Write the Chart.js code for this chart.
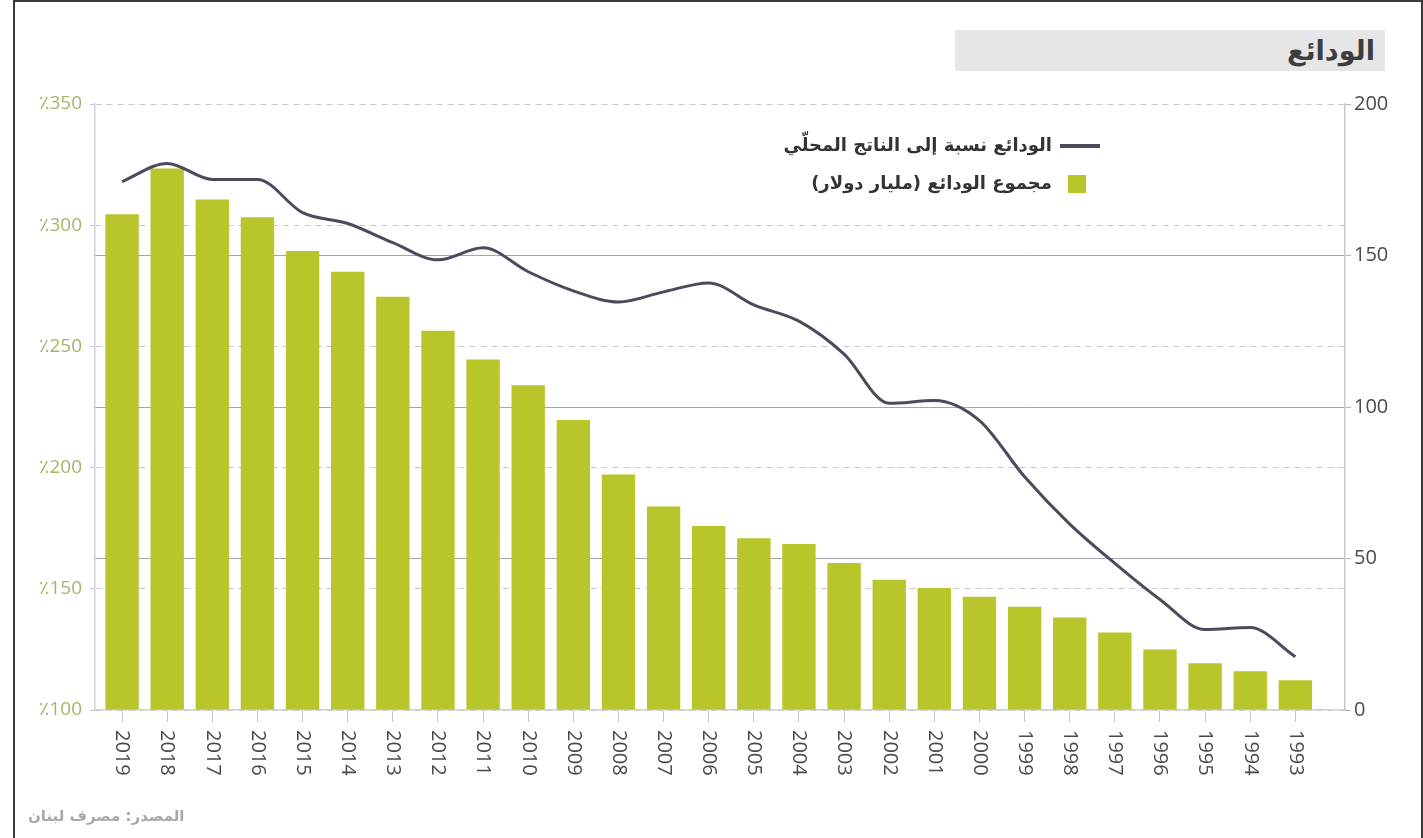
<!DOCTYPE html>
<html>
<head>
    <meta charset="utf-8">
    <title>الودائع</title>
    <script src="https://cdn.jsdelivr.net/npm/chart.js"></script>
    <style>
        body { margin: 0; background: #fff; }
        #wrap { position: relative; width: 1423px; height: 838px; overflow: hidden; }
        #frame { position: absolute; left: 13px; top: 0; width: 1406px; height: 845px; border: 2px solid #3a3a3a; border-bottom: none; }
        #title { position: absolute; left: 955px; top: 30px; width: 430px; height: 41px; background: #e6e6e6;
                 font: bold 27px "DejaVu Sans"; color: #3d3d3d; line-height: 41px; text-align: right; direction: rtl; }
        #title span { padding-right: 10px; }
        .lg { position: absolute; direction: rtl; font: bold 18px "DejaVu Sans"; color: #333; white-space: nowrap; }
        .sw { position: absolute; }
        #source { position: absolute; left: 28px; top: 807px; direction: rtl; font: bold 15px "DejaVu Sans"; color: #a8a8a8; }
    </style>
</head>
<body>
<div id="wrap">
    <canvas id="depositsChart" width="1423" height="838"></canvas>
    <div id="frame"></div>
    <div id="title"><span>الودائع</span></div>
    <div class="sw" style="left:1060px; top:144px; width:40px; height:4px; background:#4a4c5c;"></div>
    <div class="lg" style="right:371px; top:134px;">الودائع نسبة إلى الناتج المحلّي</div>
    <div class="sw" style="left:1068px; top:175px; width:18px; height:18px; background:#b8c62b;"></div>
    <div class="lg" style="right:371px; top:172px;">مجموع الودائع (مليار دولار)</div>
    <div id="source">المصدر: مصرف لبنان</div>
</div>

<script>
    const years = ['2019', '2018', '2017', '2016', '2015', '2014', '2013', '2012', '2011', '2010',
        '2009', '2008', '2007', '2006', '2005', '2004', '2003', '2002', '2001', '2000',
        '1999', '1998', '1997', '1996', '1995', '1994', '1993'];
    // مجموع الودائع (مليار دولار)
    const totalDeposits = [163.6, 178.7, 168.5, 162.6, 151.5, 144.6, 136.4, 125.2, 115.7, 107.2,
        95.7, 77.7, 67.2, 60.7, 56.7, 54.8, 48.5, 43.0, 40.3, 37.4,
        34.1, 30.5, 25.6, 20.0, 15.4, 12.8, 9.8];
    // الودائع نسبة إلى الناتج المحلي (%)
    const depositsToGdp = [318, 325.5, 318.9, 318.9, 305.2, 300.7, 292.8, 285.7, 290.7, 280.8,
        272.9, 268.3, 272.5, 276.2, 267.1, 260.4, 246.8, 226.5, 227.7, 219.4,
        196.2, 176.7, 160.5, 145.6, 133.2, 134.0, 122.0];
    const leftTicks = [100, 150, 200, 250, 300, 350];
    const rightTicks = [0, 50, 100, 150, 200];

    const yearLabels = {
        id: 'yearLabels',
        afterDraw(chart) {
            const ctx = chart.ctx;
            const x = chart.scales.x;
            ctx.save();
            ctx.font = '20px "Open Sans"';
            ctx.fillStyle = '#4a4a4a';
            ctx.textAlign = 'left';
            ctx.textBaseline = 'middle';
            years.forEach((yr, i) => {
                ctx.save();
                ctx.translate(x.getPixelForValue(i), x.top + 20);
                ctx.rotate(Math.PI / 2);
                ctx.fillText(yr, 0, 0);
                ctx.restore();
            });
            ctx.restore();
        }
    };

    new Chart(document.getElementById('depositsChart'), {
        data: {
            datasets: [{
                type: 'line',
                label: 'الودائع نسبة إلى الناتج المحلّي',
                data: depositsToGdp.map((v, i) => ({x: i, y: v})),
                yAxisID: 'yL',
                borderColor: '#4a4c5c',
                borderWidth: 3,
                pointRadius: 0,
                cubicInterpolationMode: 'monotone',
                order: 0
            }, {
                type: 'bar',
                label: 'مجموع الودائع (مليار دولار)',
                data: totalDeposits.map((v, i) => ({x: i, y: v})),
                yAxisID: 'yR',
                backgroundColor: '#b8c62b',
                barPercentage: 0.74,
                categoryPercentage: 1,
                order: 1
            }]
        },
        options: {
            responsive: false,
            animation: false,
            layout: { padding: { top: 104, left: 0, right: 0, bottom: 0 } },
            plugins: { legend: { display: false }, tooltip: { enabled: false } },
            scales: {
                x: {
                    type: 'linear',
                    min: -0.6,
                    max: 27.1,
                    offset: false,
                    afterFit: s => { s.height = 128; },
                    afterBuildTicks: s => { s.ticks = s.ticks.filter(t => t.value >= 0 && t.value <= 26); },
                    ticks: { stepSize: 1, includeBounds: false, display: false },
                    grid: { offset: false, drawOnChartArea: false, drawTicks: true, tickLength: 12, color: '#c4c4cc' },
                    border: { color: '#d0d0d8', width: 1.5 }
                },
                yL: {
                    position: 'left',
                    min: 100,
                    max: 350,
                    afterFit: s => { s.width = 95; },
                    afterBuildTicks: s => { s.ticks = leftTicks.map(v => ({value: v})); },
                    ticks: {
                        padding: 8,
                        color: '#a6b46a',
                        font: { family: 'Open Sans', size: 19 },
                        callback: v => '٪' + v
                    },
                    grid: { color: '#c6c6d0', tickLength: 5 },
                    border: { color: '#d0d0d8', width: 1.5, dash: [6, 5] }
                },
                yR: {
                    position: 'right',
                    min: 0,
                    max: 200,
                    afterFit: s => { s.width = 78; },
                    afterBuildTicks: s => { s.ticks = rightTicks.map(v => ({value: v})); },
                    ticks: {
                        padding: 3,
                        color: '#4a4a4a',
                        font: { family: 'Open Sans', size: 20 }
                    },
                    grid: {
                        color: c => (c.tick && (c.tick.value === 0 || c.tick.value === 200)) ? 'rgba(0,0,0,0)' : '#a4a4ae',
                        tickColor: '#b4b4bc',
                        tickLength: 6
                    },
                    border: { color: '#c8c8d0', width: 1.5 }
                }
            }
        },
        plugins: [yearLabels]
    });
</script>
</body>
</html>
